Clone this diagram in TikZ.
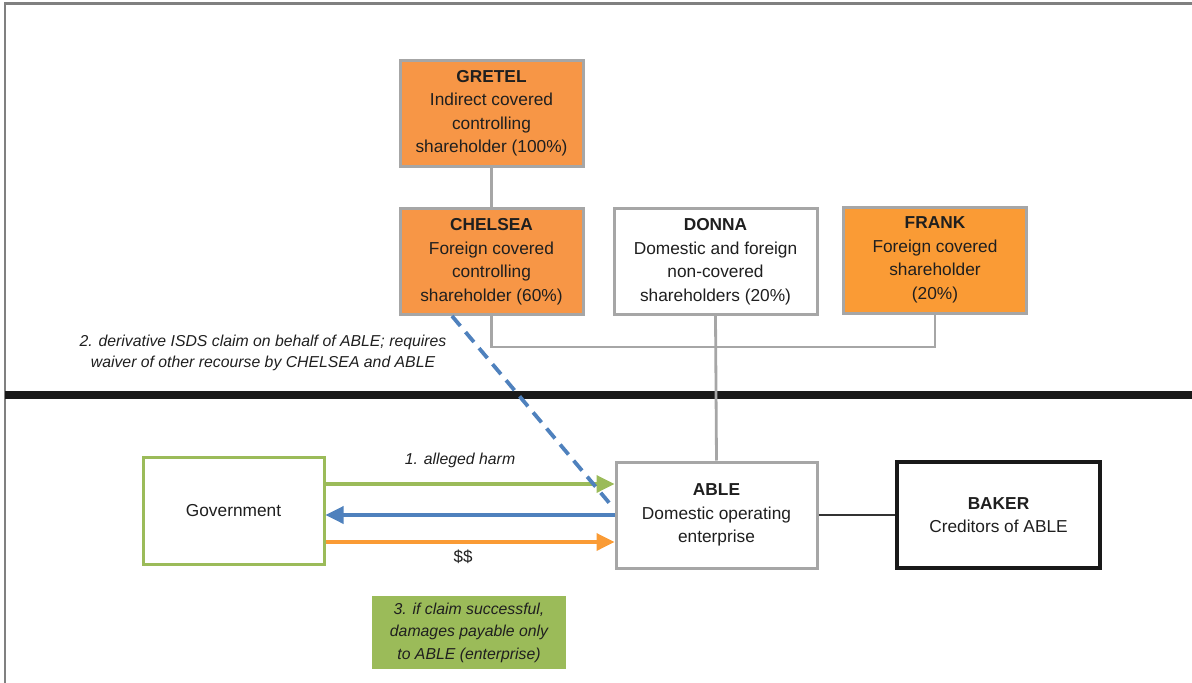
\documentclass[tikz,border=0pt]{standalone}
\usepackage{fontspec}
\setmainfont{Liberation Sans}
\usetikzlibrary{arrows.meta,calc}
\definecolor{boxgray}{HTML}{A6A6A6}
\definecolor{orgA}{HTML}{F79646}
\definecolor{orgB}{HTML}{FA9B35}
\definecolor{grn}{HTML}{9BBB59}
\definecolor{blu}{HTML}{4F81BD}
\definecolor{txt}{HTML}{1F1F1F}
\definecolor{frame}{HTML}{808080}
\tikzset{
  entity/.style={draw=boxgray, line width=3pt, minimum width=183pt, minimum height=106pt,
    inner sep=0pt, align=center, text=txt, font=\fontsize{17.3}{23.5}\selectfont},
  link/.style={draw=boxgray, line width=2.8pt},
  flow/.style={line width=3.5pt, -{Triangle[length=18pt,width=17pt]}},
  lbl/.style={text=txt, align=center, font=\fontsize{15.8}{21}\selectfont\itshape},
}
\begin{document}
\begin{tikzpicture}[x=1pt,y=-1pt]
\useasboundingbox (0,0) rectangle (1192,683);
% frame
\draw[frame, line width=2.5pt] (5,683) -- (5,3.5) -- (1192,3.5);
\draw[black!90, line width=8pt] (5,394.5) -- (1192,394.5);

% top entities
\node[entity, fill=orgA] (gretel) at (491.5,113) {\textbf{GRETEL}\\Indirect covered\\controlling\\shareholder (100\%)};
\node[entity, fill=orgA] (chelsea) at (491.5,261.5) {\textbf{CHELSEA}\\Foreign covered\\controlling\\shareholder (60\%)};
\node[entity, fill=white, minimum width=203pt] (donna) at (715.5,261.5) {\textbf{DONNA}\\Domestic and foreign\\non-covered\\shareholders (20\%)};
\node[entity, fill=orgB] (frank) at (935,260) {\textbf{FRANK}\\Foreign covered\\shareholder\\(20\%)};

% bottom entities
\node[entity, fill=white, minimum width=201pt] (able) at (716.5,515) {\textbf{ABLE}\\Domestic operating\\enterprise};
\node[entity, draw=black!90, line width=3.2pt, fill=white, minimum width=203pt] (baker) at (998.5,515) {\textbf{BAKER}\\Creditors of ABLE};
\node[entity, draw=grn, fill=white, minimum width=181pt, minimum height=107pt] (gov) at (233.5,510.5) {Government};
\node[fill=grn, minimum width=194pt, minimum height=73pt, inner sep=0pt, align=center, text=txt,
  font=\fontsize{15.8}{22.5}\selectfont\itshape] (note3) at (469,632.5)
  {3. if claim successful,\\damages payable only\\to ABLE (enterprise)};

% ownership connectors
\coordinate (bar) at (0,347);
\draw[link] (gretel.south) -- (chelsea.north);
\draw[link] (chelsea.south) -- (chelsea.south |- bar) -| (frank.south);
\draw[link] (donna.south) -- (able.north);
\draw[black!80, line width=2.8pt] (able.east) -- (baker.west);

% flows
\coordinate (a1) at (0,484);
\coordinate (a2) at (0,515);
\coordinate (a3) at (0,542);
\draw[flow, grn] (gov.east |- a1) -- (able.west |- a1);
\draw[flow, blu] (able.west |- a2) -- (gov.east |- a2);
\draw[flow, orgB] (gov.east |- a3) -- (able.west |- a3);

% derivative claim
\coordinate (ds) at (452,316);
\coordinate (de) at (611,505);
\draw[blu, line width=3.8pt, dash pattern=on 13pt off 8pt] (ds) -- (de);

% labels
\node[lbl] (l1) at (460,460) {1. alleged harm};
\node[text=txt, font=\fontsize{17}{20}\selectfont] (l3) at (463,557) {\$\$};
\node[lbl] (l2) at (263,353) {2. derivative ISDS claim on behalf of ABLE; requires\\waiver of other recourse by CHELSEA and ABLE};
\end{tikzpicture}
\end{document}
